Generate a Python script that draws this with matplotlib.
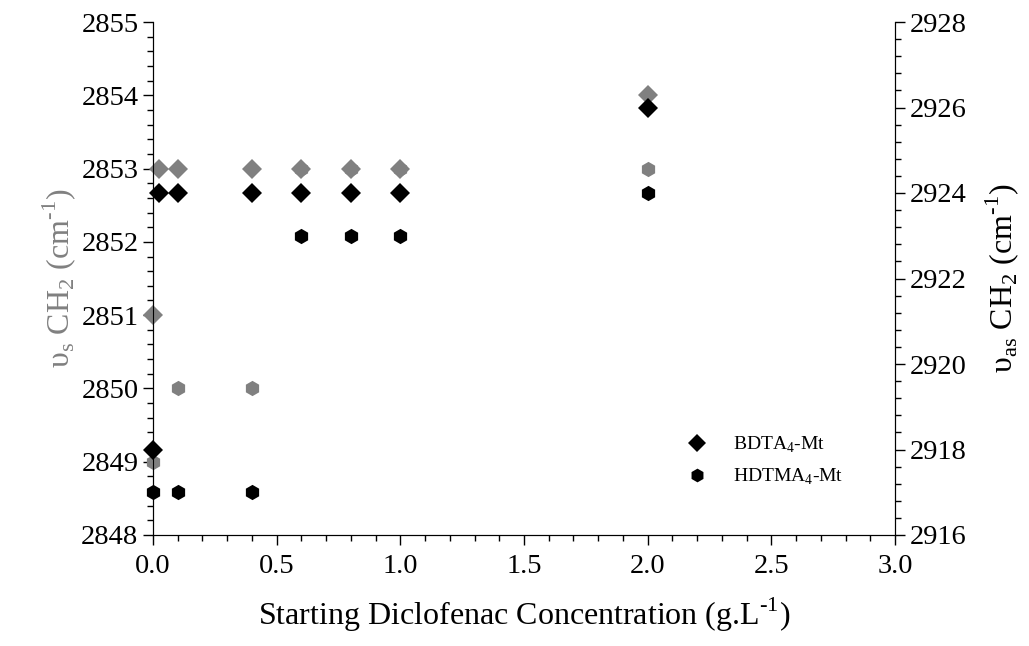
import matplotlib
matplotlib.use('Agg')
import matplotlib.pyplot as plt
from matplotlib.ticker import MultipleLocator, FormatStrFormatter

plt.rcParams['font.family'] = 'Liberation Serif'
plt.rcParams['mathtext.fontset'] = 'custom'
plt.rcParams['mathtext.rm'] = 'Liberation Serif'

# BDTA4-Mt
x_bdta = [0.0, 0.025, 0.1, 0.4, 0.6, 0.8, 1.0, 2.0]
vs_bdta = [2851, 2853, 2853, 2853, 2853, 2853, 2853, 2854]
vas_bdta = [2918, 2924, 2924, 2924, 2924, 2924, 2924, 2926]
# HDTMA4-Mt
x_hdtma = [0.0, 0.1, 0.4, 0.6, 0.8, 1.0, 2.0]
vs_hdtma = [2849, 2850, 2850, 2853, 2853, 2853, 2853]
vas_hdtma = [2917, 2917, 2917, 2923, 2923, 2923, 2924]

gray = '#808080'

fig = plt.figure(figsize=(10.29, 6.46), dpi=100)
ax = fig.add_axes([153/1029, 1-535/646, (895-153)/1029, (535-22)/646])
ax2 = ax.twinx()

ax.plot(x_bdta, vs_bdta, 'D', color=gray, ms=10, mew=0, clip_on=False, zorder=3)
ax.plot(x_hdtma, vs_hdtma, 'h', color=gray, ms=11, mew=0, clip_on=False, zorder=3)
ax2.plot(x_bdta, vas_bdta, 'D', color='k', ms=10, mew=0, clip_on=False, label=r'BDTA$_\mathregular{4}$-Mt')
ax2.plot(x_hdtma, vas_hdtma, 'h', color='k', ms=11, mew=0, clip_on=False, label=r'HDTMA$_\mathregular{4}$-Mt')

ax.set_xlim(0, 3)
ax.set_ylim(2848, 2855)
ax2.set_ylim(2916, 2928)
ax.xaxis.set_major_locator(MultipleLocator(0.5))
ax.xaxis.set_minor_locator(MultipleLocator(0.1))
ax.xaxis.set_major_formatter(FormatStrFormatter('%.1f'))
ax.yaxis.set_major_locator(MultipleLocator(1))
ax.yaxis.set_minor_locator(MultipleLocator(0.2))
ax2.yaxis.set_major_locator(MultipleLocator(2))
ax2.yaxis.set_minor_locator(MultipleLocator(0.4))

for a in (ax, ax2):
    a.spines['top'].set_visible(False)
    a.tick_params(which='major', length=7, width=1, labelsize=20.5, direction='out')
    a.tick_params(which='minor', length=4, width=1, direction='out')
ax.tick_params(axis='x', which='major', pad=7)

inv = r'(cm$^\mathregular{‐1}$)'
ax.set_xlabel(r'Starting Diclofenac Concentration (g.L$^\mathregular{‐1}$)', fontsize=23, labelpad=12)
ax.set_ylabel(r'υ$_\mathregular{s}$ CH$_\mathregular{2}$ ' + inv, fontsize=23, color=gray, labelpad=2)
ax2.set_ylabel(r'υ$_\mathregular{as}$ CH$_\mathregular{2}$ ' + inv, fontsize=23, labelpad=12)

ax2.legend(loc='center left', bbox_to_anchor=(0.694, 0.144), frameon=False, fontsize=14,
           borderpad=0, handlelength=2, handletextpad=0.85, labelspacing=0.6, markerscale=0.9)

plt.savefig('out.png', dpi=100)
